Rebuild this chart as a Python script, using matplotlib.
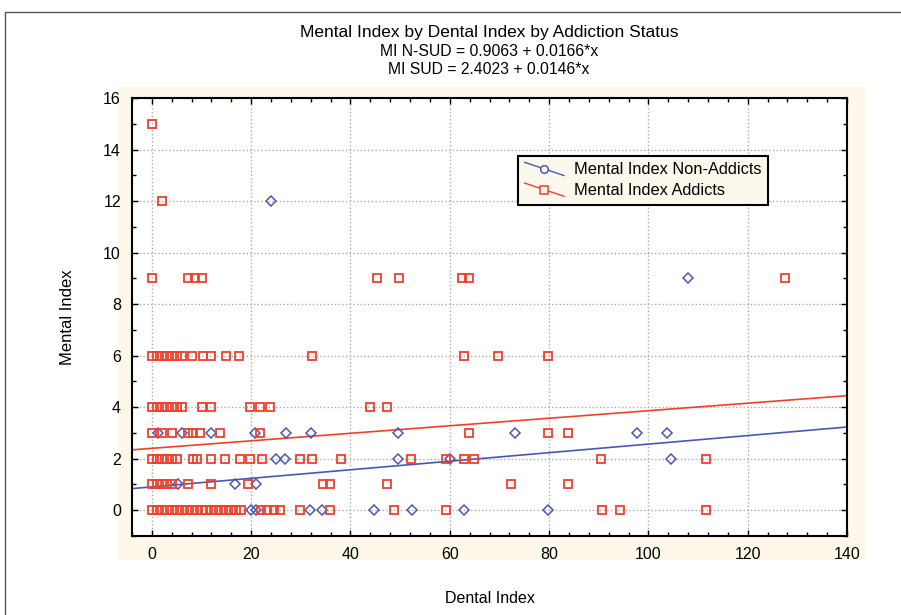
import matplotlib
matplotlib.use("Agg")
import matplotlib.pyplot as plt
from matplotlib.patches import Rectangle
from matplotlib.ticker import MultipleLocator
from matplotlib.legend_handler import HandlerLine2D
from matplotlib.lines import Line2D

plt.rcParams['font.family'] = ['Liberation Sans', 'DejaVu Sans']

# ---- data ----
title_lines = ["Mental Index by Dental Index by Addiction Status",
               "MI N-SUD = 0.9063 + 0.0166*x",
               "MI SUD = 2.4023 + 0.0146*x"]
series_names = ["Mental Index Non-Addicts", "Mental Index Addicts"]

non_x = [24, 108,
         1.3, 6, 12, 20.7, 27, 32, 49.6, 73.2, 97.7, 103.7,
         25, 26.8, 49.6, 60, 104.6,
         5.2, 16.8, 21,
         19.9, 21, 31.8, 34.3, 44.8, 52.3, 62.8, 79.8]
non_y = [12, 9,
         3, 3, 3, 3, 3, 3, 3, 3, 3, 3,
         2, 2, 2, 2, 2,
         1, 1, 1,
         0, 0, 0, 0, 0, 0, 0, 0]

add_x15 = [0]
add_x12 = [2]
add_x9 = [0, 7.3, 8.7, 10, 45.4, 49.7, 62.4, 63.8, 127.6]
add_x6 = [0, 1, 2, 3, 4, 5, 6, 8, 10.3, 12, 15, 17.5, 32.3, 62.8, 69.8, 79.8]
add_x4 = [0, 1, 2, 3, 4, 5, 6, 10, 12, 19.7, 21.7, 23.7, 43.9, 47.4]
add_x3 = [0, 2, 4, 7.3, 8.3, 9.7, 13.7, 21.7, 63.8, 79.8, 83.8]
add_x2 = [0, 1, 2, 3, 4, 5, 8.2, 9, 12, 14.8, 17.7, 19.7, 22.2, 29.8, 32.3,
          38.1, 52.2, 59.2, 62.8, 64.9, 90.4, 111.6]
add_x1 = [0, 1, 2, 3, 4, 7.3, 12, 19.4, 34.4, 35.8, 47.3, 72.4, 83.8]
add_x0 = [0, 1, 2, 3, 4, 5, 6, 7, 8, 9, 10, 11, 12, 13, 14, 15, 16, 17, 18,
          22, 23.2, 24.5, 25.8, 29.8, 35.8, 48.8, 59.2, 90.7, 94.2, 111.6]
add_rows = {15: add_x15, 12: add_x12, 9: add_x9, 6: add_x6, 4: add_x4,
            3: add_x3, 2: add_x2, 1: add_x1, 0: add_x0}

fit_non = (0.9063, 0.0166)
fit_add = (2.4023, 0.0146)

xlim = (-4, 140)
ylim = (-1, 16)

blue = '#4a58b4'
red = '#f0402c'


class DiagonalHandler(HandlerLine2D):
    def create_artists(self, legend, orig_handle, xdescent, ydescent,
                       width, height, fontsize, trans):
        x0, x1 = -xdescent, -xdescent + width
        y0, y1 = -ydescent + height * 1.05, -ydescent - height * 0.1
        line = Line2D([x0, x1], [y0, y1], color=orig_handle.get_color(),
                      lw=orig_handle.get_linewidth(), transform=trans)
        mk = Line2D([(x0 + x1) / 2], [(y0 + y1) / 2], linestyle='none',
                    marker=orig_handle.get_marker(),
                    ms=orig_handle.get_markersize(), mfc='#fdf8ec',
                    mec=orig_handle.get_markeredgecolor(),
                    mew=orig_handle.get_markeredgewidth(), transform=trans)
        return [line, mk]


# ---- figure ----
fig = plt.figure(figsize=(9.01, 6.15), dpi=100)
fig.patch.set_facecolor('white')
W, H = 901, 615
fig.add_artist(Rectangle((5 / W, -0.1), 1.2, 1 - 12 / H + 0.1, transform=fig.transFigure,
                         fill=False, edgecolor='#555555', linewidth=1.0))
fig.add_artist(Rectangle((118 / W, 1 - 560 / H), (865 - 118) / W, (560 - 87) / H,
                         transform=fig.transFigure, facecolor='#fdf8ea',
                         edgecolor='none', zorder=0))

ax = fig.add_axes([132 / W, 1 - 536 / H, (847 - 132) / W, (536 - 98) / H])
ax.set_facecolor('white')

ax.plot(non_x, non_y, linestyle='none', marker='D', ms=5.3, mfc='none',
        mec=blue, mew=1.1, zorder=3)
ax_x = []
ax_y = []
for yv, xs in add_rows.items():
    ax_x += xs
    ax_y += [yv] * len(xs)
ax.plot(ax_x, ax_y, linestyle='none', marker='s', ms=6, mfc='none',
        mec=red, mew=1.3, zorder=3)

xs_line = [xlim[0], xlim[1]]
ax.plot(xs_line, [fit_non[0] + fit_non[1] * v for v in xs_line], color=blue, lw=1.2, zorder=2)
ax.plot(xs_line, [fit_add[0] + fit_add[1] * v for v in xs_line], color=red, lw=1.2, zorder=2)

h1 = Line2D([], [], color=blue, lw=1.0, marker='o', ms=5.5, mec=blue, mew=1.1)
h2 = Line2D([], [], color=red, lw=1.0, marker='s', ms=6, mec=red, mew=1.1)
leg = ax.legend([h1, h2], series_names, loc='upper left',
                bbox_to_anchor=(0.54, 0.868), fontsize=11.8, frameon=True,
                fancybox=False, borderpad=0.4, labelspacing=0.35,
                handlelength=2.4, handletextpad=0.6, borderaxespad=0,
                handler_map={Line2D: DiagonalHandler()})
leg.get_frame().set_facecolor('#fdf8ec')
leg.get_frame().set_edgecolor('black')
leg.get_frame().set_linewidth(1.5)
leg.get_frame().set_alpha(1)

ax.set_xlim(*xlim)
ax.set_ylim(*ylim)
ax.xaxis.set_major_locator(MultipleLocator(20))
ax.xaxis.set_minor_locator(MultipleLocator(4))
ax.yaxis.set_major_locator(MultipleLocator(2))
ax.yaxis.set_minor_locator(MultipleLocator(1))
ax.tick_params(which='both', direction='in', top=True, right=True,
               labelsize=11.5, colors='black', pad=8)
ax.tick_params(which='major', length=4, width=1)
ax.tick_params(which='minor', length=3, width=1)
ax.grid(True, which='major', linestyle=':', color='#aaaaaa', linewidth=1)
ax.set_axisbelow(True)
for s in ax.spines.values():
    s.set_linewidth(1.5)
    s.set_color('black')

ax.set_xlabel("Dental Index", fontsize=11.5, labelpad=21)
ax.set_ylabel("Mental Index", fontsize=12, labelpad=20)

fig.text(489 / W, 1 - 33 / H, title_lines[0], ha='center', va='center', fontsize=12.5)
fig.text(489 / W, 1 - 51 / H, title_lines[1], ha='center', va='center', fontsize=11.3)
fig.text(489 / W, 1 - 70 / H, title_lines[2], ha='center', va='center', fontsize=11.3)

fig.savefig("out.png", dpi=100)
